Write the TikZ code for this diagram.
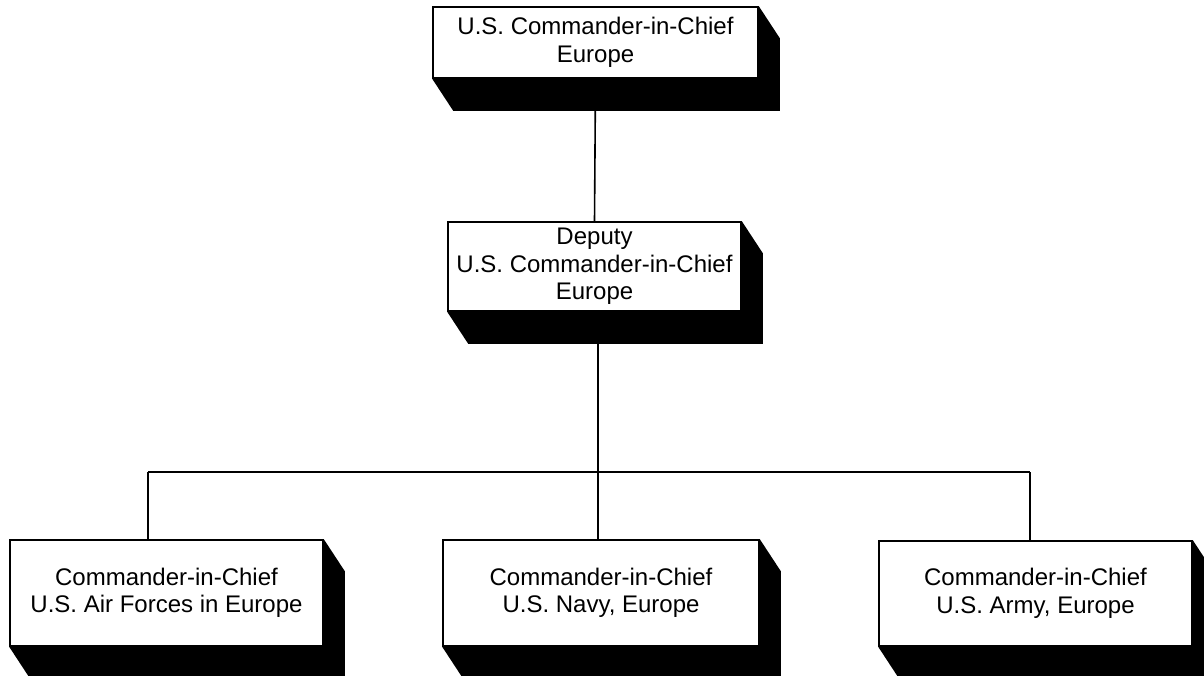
\documentclass[tikz,border=0pt]{standalone}
\usepackage{fontspec}
\setmainfont{Liberation Sans}
\usetikzlibrary{calc,backgrounds}
\begin{document}
\begin{tikzpicture}[x=1pt,y=-1pt,
  orgbox/.style={draw, fill=white, line width=1.6pt, inner sep=0pt, align=center,
    font=\fontsize{24}{27.5}\selectfont},
  conn/.style={line width=1.6pt},
  shadowfill/.style={fill=black}]
\useasboundingbox (0,0) rectangle (1204,676);
\clip (0,0) rectangle (1204,676);
\node[orgbox, minimum width=325, minimum height=71] (top) at (595.5,42.5) {U.S. Commander-in-Chief\\Europe};
\node[orgbox, minimum width=293, minimum height=89] (deputy) at (594.5,266.5) {Deputy\\U.S. Commander-in-Chief\\Europe};
\node[orgbox, minimum width=313, minimum height=106] (air) at (166.5,593) {Commander-in-Chief\\U.S. Air Forces in Europe};
\node[orgbox, minimum width=316, minimum height=106] (navy) at (601,593) {Commander-in-Chief\\U.S. Navy, Europe};
\node[orgbox, minimum width=313, minimum height=105] (army) at (1035.5,593.5) {Commander-in-Chief\\U.S. Army, Europe};
\begin{scope}[on background layer]
\foreach \n in {top,deputy,air,navy,army}{
  \fill[shadowfill] (\n.north east) -- ($(\n.north east)+(21,32)$) -- ($(\n.south east)+(21,32)$)
    -- ($(\n.south west)+(21,32)$) -- (\n.south west) -- cycle;
}
\end{scope}
\coordinate (jl) at (148,472);
\coordinate (jm) at (598,472);
\coordinate (jr) at (1030,472);
\draw[conn] (top.south) -- (deputy.north);
\draw[conn] (deputy.south -| jm) -- (jm) -- (navy.north -| jm);
\draw[conn] (jl) -- (jr);
\draw[conn] (jl) -- (air.north -| jl);
\draw[conn] (jr) -- (army.north -| jr);
\end{tikzpicture}
\end{document}
